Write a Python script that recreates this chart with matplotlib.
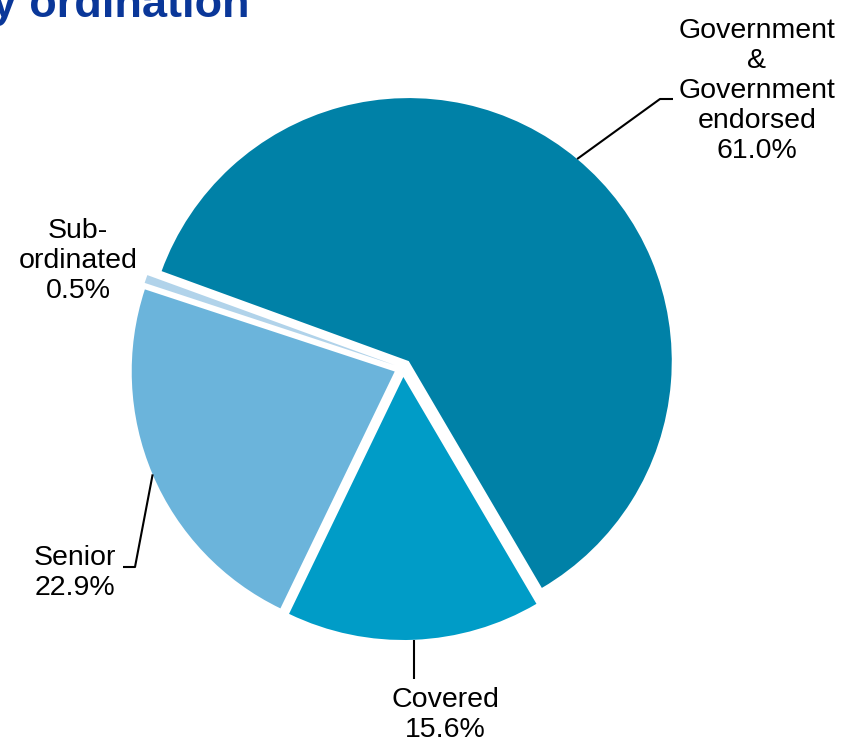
import numpy as np
import matplotlib
matplotlib.use("Agg")
import matplotlib.pyplot as plt

plt.rcParams['font.family'] = ['Liberation Sans', 'DejaVu Sans']

# cover pool split by ordination (%)
names = ["Government\n&\nGovernment\nendorsed", "Covered", "Senior", "Sub-\nordinated"]
values = [61.0, 15.6, 22.9, 0.5]
colors = ["#0081A7", "#009CC7", "#6BB4DB", "#B1D3EA"]

W, H = 859, 747
fig = plt.figure(figsize=(W / 100, H / 100), dpi=100)
ax = fig.add_axes([0, 0, 1, 1])

# axes work in pixel units, so explode is a pixel offset here
cx, cy, R = 403, 379, 263
wedges, _ = ax.pie(values, center=(cx, cy), radius=R, colors=colors,
                   startangle=160, counterclock=False,
                   explode=[9] * len(values),
                   wedgeprops=dict(linewidth=0))
ax.set_xlim(0, W)
ax.set_ylim(0, H)
ax.set_aspect('equal')
ax.axis('off')


def edge_point(w):
    mid = np.deg2rad((w.theta1 + w.theta2) / 2)
    x0, y0 = w.center
    return x0 + w.r * np.cos(mid), y0 + w.r * np.sin(mid)


def label(i, x, y, **kw):
    ax.text(x, y, f"{names[i]}\n{values[i]:.1f}%", ha='center', va='center',
            multialignment='center', fontsize=20.5, linespacing=1.2, **kw)


line_kw = dict(color='black', linewidth=1.5, solid_capstyle='butt')

# Government & Government endorsed
sx, sy = edge_point(wedges[0])
ax.plot([sx, 660, 673], [sy, 648, 648], **line_kw)
label(0, 757, 656)

# Covered
sx, sy = edge_point(wedges[1])
ax.plot([sx, sx], [sy, 68], **line_kw)
label(1, 445, 32)

# Senior
sx, sy = edge_point(wedges[2])
ax.plot([sx, 135, 123], [sy, 180, 180], **line_kw)
label(2, 75, 174)

# Sub-ordinated
label(3, 78, 486)

ax.text(250, H - 17, "by ordination", ha='right', va='baseline',
        fontsize=32.5, fontweight='bold', color='#0A3799')

fig.savefig("out.png", dpi=100)
